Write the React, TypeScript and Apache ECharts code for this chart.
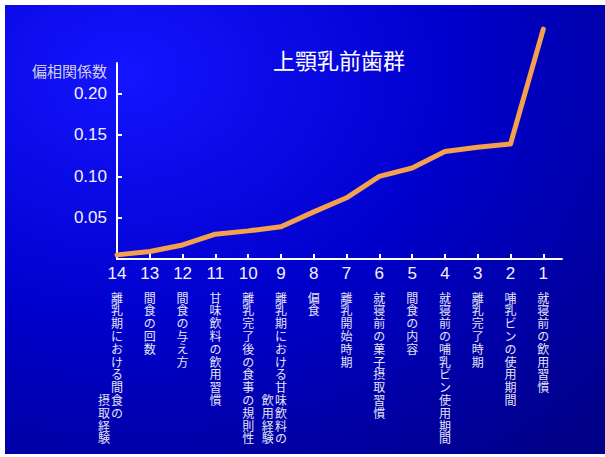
import React, { useEffect, useRef } from 'react';
import * as echarts from 'echarts';

const chartTitle = '上顎乳前歯群';
const yAxisName = '偏相関係数';
const categories = ['14', '13', '12', '11', '10', '9', '8', '7', '6', '5', '4', '3', '2', '1'];
const factorLabels = [
  '離乳期における間食の',
  '間食の回数',
  '間食の与え方',
  '甘味飲料の飲用習慣',
  '離乳完了後の食事の規則性',
  '離乳期における甘味飲料の',
  '偏食',
  '離乳開始時期',
  '就寝前の菓子摂取習慣',
  '間食の内容',
  '就寝前の哺乳ビン使用期間',
  '離乳完了時期',
  '哺乳ビンの使用期間',
  '就寝前の飲用習慣',
];
const factorLabelsSecondLine = ['摂取経験', '', '', '', '', '飲用経験', '', '', '', '', '', '', '', ''];
const coefficients = [0.005, 0.009, 0.017, 0.030, 0.034, 0.039, 0.057, 0.074, 0.100, 0.110, 0.130, 0.135, 0.139, 0.278];
const yTickValues = [0.05, 0.10, 0.15, 0.20];

const SUB_START_ROW = 8;
const CJK = '"Noto Sans CJK JP", "Noto Sans CJK SC", sans-serif';
const LATIN = '"Liberation Sans", Arial, sans-serif';

export default function App() {
  const ref = useRef<HTMLDivElement>(null);
  useEffect(() => {
    if (!ref.current) return;
    const chart = echarts.init(ref.current, null, { renderer: 'svg' });
    const xIndices = categories.map((_, i) => i);
    const formatter = (value: number) => {
      const i = Math.round(value);
      const main = Array.from(factorLabels[i] || '');
      const sub = Array.from(factorLabelsSecondLine[i] || '');
      const rows = Math.max(main.length, sub.length ? SUB_START_ROW + sub.length : 0);
      const lines = [`{n|${categories[i]}}`, '{s| }'];
      for (let r = 0; r < rows; r++) {
        const m = main[r] ?? '\u3000';
        if (sub.length) {
          const sc = r >= SUB_START_ROW ? sub[r - SUB_START_ROW] ?? '\u3000' : '\u3000';
          lines.push(`{c|${sc}}{g| }{c|${m}}{g| }{c|\u3000}`);
        } else {
          lines.push(`{c|${m}}`);
        }
      }
      return lines.join('\n');
    };
    chart.setOption({
      animation: false,
      backgroundColor: '#ffffff',
      graphic: [
        {
          type: 'rect',
          z: -10,
          silent: true,
          shape: { x: 5, y: 5, width: 600, height: 449 },
          style: {
            fill: new echarts.graphic.RadialGradient(0.2, 0.15, 1.1, [
              { offset: 0, color: '#1414ff' },
              { offset: 0.5, color: '#0000cc' },
              { offset: 1, color: '#000088' },
            ]),
          },
        },
      ],
      title: {
        text: chartTitle,
        left: 339,
        top: 47,
        textAlign: 'center',
        padding: 0,
        textStyle: { color: '#ffffff', fontSize: 22, fontWeight: 'normal', fontFamily: CJK, lineHeight: 24 },
      },
      grid: { left: 117, top: 63, right: 43, bottom: 198, containLabel: false },
      xAxis: {
        type: 'value',
        min: 0,
        max: 13.57,
        axisLine: { show: true, onZero: false, lineStyle: { color: '#ffffff', width: 2 } },
        axisTick: { show: true, inside: true, length: 5, customValues: xIndices, lineStyle: { color: '#ffffff', width: 2 } },
        splitLine: { show: false },
        axisLabel: {
          show: true,
          customValues: xIndices,
          margin: 4,
          formatter,
          align: 'center',
          verticalAlign: 'top',
          rich: {
            n: { fontSize: 17, lineHeight: 20, color: '#f2f2fa', fontFamily: LATIN },
            s: { fontSize: 4, lineHeight: 7.6 },
            g: { fontSize: 4, lineHeight: 12.8 },
            c: { fontSize: 12, lineHeight: 12.8, color: '#e4e4f2', fontFamily: CJK },
          },
        },
      },
      yAxis: {
        type: 'value',
        min: 0,
        max: 0.237,
        name: yAxisName,
        nameLocation: 'end',
        nameGap: 0,
        nameTextStyle: {
          color: '#d0d0e6',
          fontSize: 15,
          fontFamily: CJK,
          align: 'right',
          verticalAlign: 'top',
          padding: [0, 10, 0, 0],
        },
        axisLine: { show: true, onZero: false, lineStyle: { color: '#ffffff', width: 2 } },
        axisTick: { show: true, inside: true, length: 5, customValues: yTickValues, lineStyle: { color: '#ffffff', width: 2 } },
        splitLine: { show: false },
        axisLabel: {
          show: true,
          customValues: yTickValues,
          margin: 10,
          color: '#f2f2fa',
          fontSize: 17,
          fontFamily: LATIN,
          formatter: (v: number) => v.toFixed(2),
        },
      },
      series: [
        {
          type: 'line',
          data: coefficients.map((v, i) => [i, v]),
          showSymbol: false,
          symbol: 'none',
          clip: false,
          z: 5,
          lineStyle: { color: '#f5a04c', width: 5, join: 'round', cap: 'round' },
        },
      ],
    });
    return () => chart.dispose();
  }, []);
  return <div ref={ref} style={{ position: 'fixed', left: 0, top: 0, width: 605, height: 457 }} />;
}
